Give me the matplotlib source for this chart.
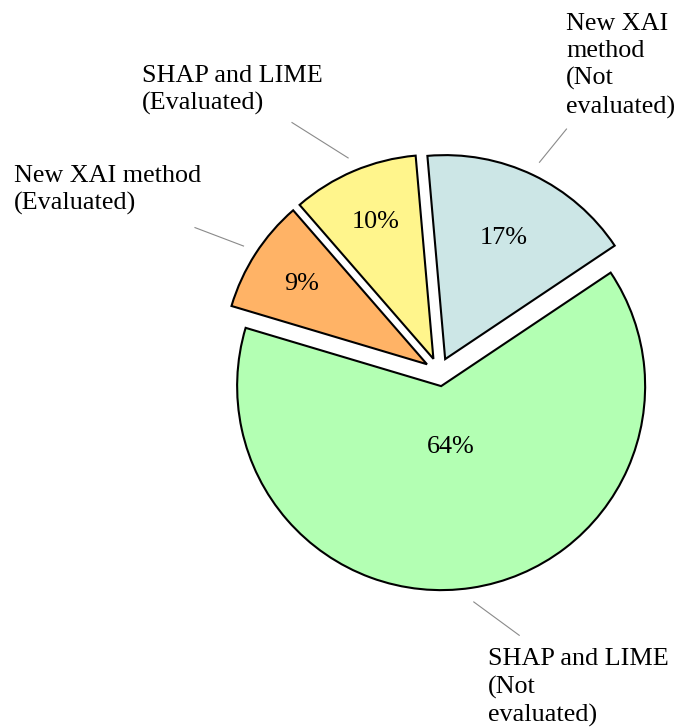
import numpy as np
import matplotlib
matplotlib.use("Agg")
import matplotlib.pyplot as plt

# ---- data ----
categories = ["SHAP and LIME\n(Evaluated)",
              "New XAI method\n(Evaluated)",
              "SHAP and LIME\n(Not\nevaluated)",
              "New XAI\nmethod\n(Not\nevaluated)"]
values = [10, 9, 64, 17]
colors = ["#FFF58C", "#FFB366", "#B3FFB3", "#CCE6E6"]

# ---- layout (pixels) ----
W, H = 693, 728
CX, CY, R = 439, 372, 204          # pie centre and radius in pixels
FS = 18.8
FONT = ["Liberation Serif", "DejaVu Serif"]

def px(x, y):
    return (x - CX) / R, (CY - y) / R

fig = plt.figure(figsize=(W / 100, H / 100), dpi=100)
ax = fig.add_axes([0, 0, 1, 1])

wedges, texts, autotexts = ax.pie(
    values, colors=colors, startangle=95, counterclock=True,
    explode=[0.07] * len(values), radius=1.0, center=(0, 0),
    autopct=lambda p: f"{p:.0f}%",
    wedgeprops=dict(edgecolor="black", linewidth=1.5),
    textprops=dict(fontsize=FS, family=FONT, color="black"))

ax.set_xlim(-CX / R, (W - CX) / R)
ax.set_ylim(-(H - CY) / R, CY / R)
ax.set_aspect("auto")
ax.axis("off")

# percentage label distances (fraction of radius)
pct_dist = [0.73, 0.73, 0.30, 0.66]
# leader-line outer ends (radius fraction, angle deg) relative to wedge centre
line_out = [(1.35, 120.9), (1.32, 149.5), (1.28, -72.6), (1.275, 62.2)]
# text anchor: left x, first-line baseline y (pixels)
text_pos = [(141.7, 82.3), (14, 182.3), (488.3, 666.0), (566, 30.5)]

for w, at, d, (ro, ao), (tx, ty), lab in zip(wedges, autotexts, pct_dist,
                                              line_out, text_pos, categories):
    mid = np.deg2rad((w.theta1 + w.theta2) / 2)
    c = np.array(w.center)
    at.set_position(c + d * np.array([np.cos(mid), np.sin(mid)]))
    at.set_ha("center"); at.set_va("center")
    p1 = c + 1.07 * np.array([np.cos(mid), np.sin(mid)])
    a2 = np.deg2rad(ao)
    p2 = c + ro * np.array([np.cos(a2), np.sin(a2)])
    ax.plot([p1[0], p2[0]], [p1[1], p2[1]], color="#8a8a8a", lw=0.8)
    x, y = px(tx, ty - 17.8)
    ax.text(x, y, lab, ha="left", va="top", fontsize=FS, family=FONT,
            linespacing=1.3, multialignment="left")

fig.savefig("out.png", dpi=100)
